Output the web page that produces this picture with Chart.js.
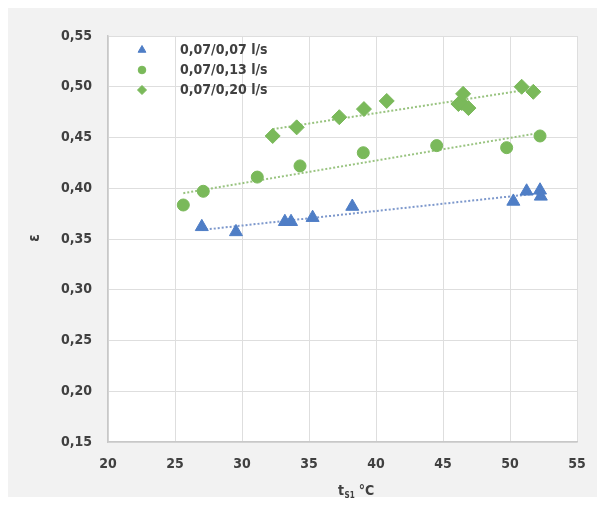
<!DOCTYPE html>
<html>
<head>
<meta charset="utf-8">
<script src="https://cdn.jsdelivr.net/npm/chart.js@4.4.1/dist/chart.umd.min.js"></script>
<style>
  html, body { margin: 0; padding: 0; background: #ffffff; }
  #wrap { width: 605px; height: 505px; }
</style>
</head>
<body>
<div id="wrap"><canvas id="c" width="605" height="505"></canvas></div>
<script>
// Flow-rate series (legend labels)
const seriesLabels = ['0,07/0,07 l/s', '0,07/0,13 l/s', '0,07/0,20 l/s'];

// t_S1 [°C] and efficiency ε for each series
const tempA = [27.0, 29.55, 33.2, 33.66, 35.27, 38.23, 50.25, 51.24, 52.24, 52.3];
const effA  = [0.362, 0.357, 0.367, 0.367, 0.371, 0.382, 0.387, 0.397, 0.398, 0.392];

const tempB = [25.62, 27.11, 31.14, 34.33, 39.05, 44.53, 49.75, 52.24];
const effB  = [0.3835, 0.397, 0.411, 0.422, 0.435, 0.442, 0.440, 0.4515];

const tempC = [32.29, 34.08, 37.26, 39.1, 40.8, 46.15, 46.4, 46.5, 46.9, 50.87, 51.74];
const effC  = [0.4515, 0.460, 0.470, 0.478, 0.486, 0.483, 0.484, 0.493, 0.479, 0.500, 0.495];

// Axis ticks
const xTicks = [20, 25, 30, 35, 40, 45, 50, 55];
const yTicks = [0.15, 0.20, 0.25, 0.30, 0.35, 0.40, 0.45, 0.50, 0.55];

const BLUE = '#4f7ec6';
const GREEN = '#7ab95a';
const TXT = '#404040';
const FONT = '"DejaVu Sans Condensed", "DejaVu Sans", sans-serif';

function toPoints(xs, ys) {
  return xs.map((x, i) => ({ x: x, y: ys[i] }));
}

// Least-squares linear trend over the range of the series
function trend(xs, ys) {
  const n = xs.length;
  const mx = xs.reduce((a, b) => a + b, 0) / n;
  const my = ys.reduce((a, b) => a + b, 0) / n;
  let sxy = 0, sxx = 0;
  for (let i = 0; i < n; i++) {
    sxy += (xs[i] - mx) * (ys[i] - my);
    sxx += (xs[i] - mx) * (xs[i] - mx);
  }
  const b = sxy / sxx;
  const a = my - b * mx;
  const lo = Math.min(...xs), hi = Math.max(...xs);
  return [{ x: lo, y: a + b * lo }, { x: hi, y: a + b * hi }];
}

function scatterSet(label, xs, ys, color, style, r) {
  return {
    type: 'scatter', label: label, data: toPoints(xs, ys),
    backgroundColor: color, borderColor: color, borderWidth: 1,
    pointStyle: style, pointRadius: r, pointHoverRadius: r, order: 1, clip: false
  };
}

function trendSet(xs, ys, color) {
  return {
    type: 'line', label: '', data: trend(xs, ys),
    borderColor: color, borderWidth: 2, borderDash: [2, 2],
    pointRadius: 0, fill: false, order: 2, isTrend: true
  };
}

const fmtComma = v => (Math.round(v * 100) / 100).toFixed(2).replace('.', ',');

// Grey frame behind the chart, white plotting area
const framePlugin = {
  id: 'frame',
  beforeDraw(chart) {
    const ctx = chart.ctx, a = chart.chartArea;
    ctx.save();
    ctx.fillStyle = '#ffffff';
    ctx.fillRect(0, 0, chart.width, chart.height);
    ctx.fillStyle = '#f2f2f2';
    ctx.fillRect(8, 8, 589, 489);
    ctx.fillStyle = '#ffffff';
    ctx.fillRect(a.left, a.top, a.right - a.left, a.bottom - a.top);
    ctx.restore();
  }
};

// Legend inside the plot and the axis titles
const labelsPlugin = {
  id: 'labels',
  afterDraw(chart) {
    const ctx = chart.ctx;
    ctx.save();
    const marks = chart.data.datasets.filter(d => !d.isTrend);
    const rows = [50, 70, 90];
    const legendR = [4.5, 3.8, 4.5];
    marks.forEach((d, i) => {
      ctx.fillStyle = d.backgroundColor;
      ctx.strokeStyle = d.borderColor;
      ctx.lineWidth = 1;
      Chart.helpers.drawPoint(ctx, { pointStyle: d.pointStyle, radius: legendR[i], rotation: 0, borderWidth: 1 }, 142, rows[i]);
      ctx.fillStyle = TXT;
      ctx.font = 'bold 14px ' + FONT;
      ctx.textAlign = 'left';
      ctx.textBaseline = 'middle';
      ctx.fillText(d.label, 180, rows[i]);
    });

    // y title: ε, rotated
    ctx.save();
    ctx.translate(35, 238);
    ctx.rotate(-Math.PI / 2);
    ctx.font = 'bold 15px ' + FONT;
    ctx.textAlign = 'center';
    ctx.textBaseline = 'middle';
    ctx.fillStyle = TXT;
    ctx.fillText('ε', 0, 0);
    ctx.restore();

    // x title: t_S1 °C
    ctx.fillStyle = TXT;
    ctx.textBaseline = 'alphabetic';
    ctx.textAlign = 'left';
    let x = 338;
    const base = 495;
    ctx.font = 'bold 14px ' + FONT;
    ctx.fillText('t', x, base);
    x += ctx.measureText('t').width + 0.5;
    ctx.font = 'bold 8px ' + FONT;
    ctx.fillText('S1', x, base + 3);
    x += ctx.measureText('S1').width + 4;
    ctx.font = 'bold 14px ' + FONT;
    ctx.fillText('°C', x, base);
    ctx.restore();
  }
};

new Chart(document.getElementById('c'), {
  data: {
    datasets: [
      scatterSet(seriesLabels[0], tempA, effA, BLUE, 'triangle', 7.5),
      scatterSet(seriesLabels[1], tempB, effB, GREEN, 'circle', 6),
      scatterSet(seriesLabels[2], tempC, effC, GREEN, 'rectRot', 7.5),
      trendSet(tempA, effA, '#7d98cc'),
      trendSet(tempB, effB, '#98c37f'),
      trendSet(tempC, effC, '#98c37f')
    ]
  },
  options: {
    responsive: false,
    animation: false,
    events: [],
    layout: { padding: { left: 8, top: 36, right: 28, bottom: 8 } },
    plugins: { legend: { display: false }, tooltip: { enabled: false } },
    scales: {
      x: {
        type: 'linear', min: xTicks[0], max: xTicks[xTicks.length - 1],
        afterBuildTicks: s => { s.ticks = xTicks.map(v => ({ value: v })); },
        afterFit: s => { s.height = 55; },
        grid: { color: '#dedede', lineWidth: 1, drawTicks: false },
        border: { color: '#c8c8c8', width: 1.5 },
        ticks: { color: TXT, font: { family: FONT, size: 14, weight: 'bold' }, padding: 14, maxRotation: 0,
                 callback: v => String(v) }
      },
      y: {
        type: 'linear', min: yTicks[0], max: yTicks[yTicks.length - 1],
        afterBuildTicks: s => { s.ticks = yTicks.map(v => ({ value: v })); },
        afterFit: s => { s.width = 100; },
        grid: { color: '#dedede', lineWidth: 1, drawTicks: false },
        border: { color: '#c8c8c8', width: 1.5 },
        ticks: { color: TXT, font: { family: FONT, size: 14, weight: 'bold' }, padding: 16,
                 callback: v => fmtComma(v) }
      }
    }
  },
  plugins: [framePlugin, labelsPlugin]
});
</script>
</body>
</html>
